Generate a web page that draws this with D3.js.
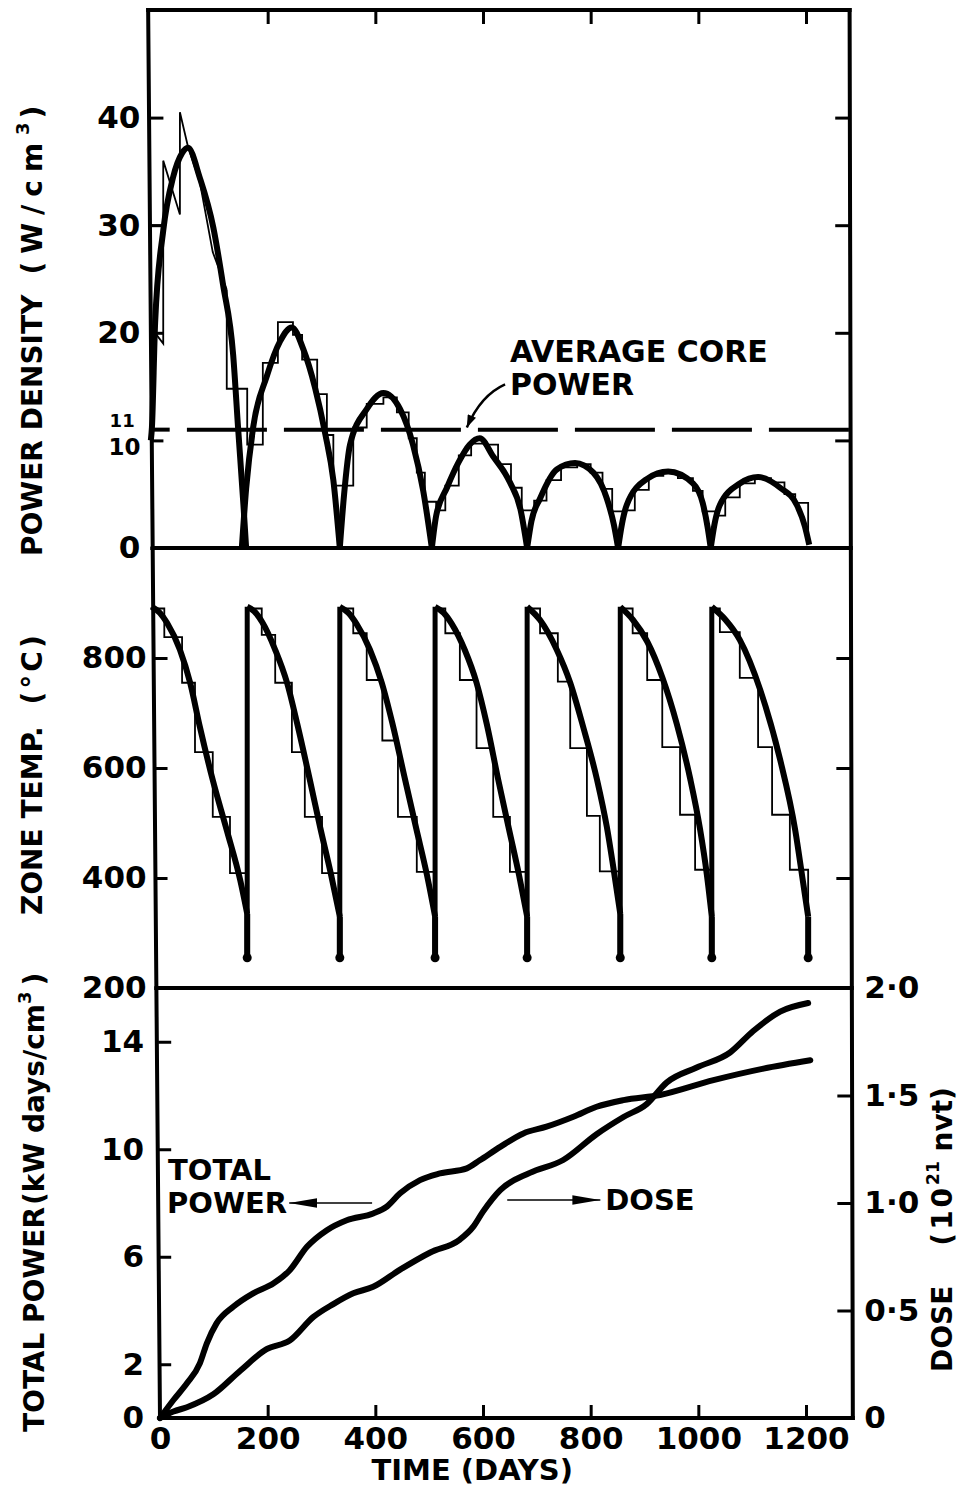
<!DOCTYPE html>
<html>
<head>
<meta charset="utf-8">
<script src="https://cdn.jsdelivr.net/npm/d3@7"></script>
<style>
body { margin: 0; background: #fff; }
svg text { font-family: "DejaVu Sans", sans-serif; font-weight: bold; fill: #000; }
</style>
</head>
<body>
<div id="chart"></div>
<script>
// ---------- data ----------
var dayTicks = [0, 200, 400, 600, 800, 1000, 1200];

// power density (W/cm3)
var powerTicks = [0, 10, 20, 30, 40];
var averageCorePower = 11;
var powerCycles = [
  [[-17,10],[-15,11.2],[-9,21],[6,29.5],[24,34.4],[41,36.7],[52,37.2],[74,34.4],[99,29.8],[117,24.5],[136,17.9],[145,11.2],[155,4],[160,0]],
  [[152,0],[160,5.5],[173,11.2],[198,15.9],[223,19.2],[245,20.5],[266,18.5],[288,14.9],[307,10.6],[322,6.3],[334,0]],
  [[334,0],[342,5],[353,9.6],[384,12.9],[415,14.4],[446,12.9],[470,9.6],[489,5.3],[505,0]],
  [[505,0],[513,3],[533,5.6],[555,8],[575,9.6],[594,10.2],[619,8.5],[650,6.1],[670,3.5],[682,0]],
  [[682,0],[690,2.5],[706,4.6],[737,7.3],[771,7.9],[805,7.0],[830,4.6],[843,2.2],[851,0]],
  [[851,0],[858,2.2],[867,4.0],[904,6.4],[944,7.1],[990,6.0],[1008,4.2],[1017,2],[1023,0]],
  [[1023,0],[1030,2.2],[1040,4.0],[1077,6.0],[1111,6.6],[1152,5.6],[1183,4.0],[1198,2.0],[1206,0.3]]
];
// thin trace: irregular first part, then a staircase
var powerTraceStart = [[-17,20.5],[6,19],[6,36],[37,31],[37,40.5],[52,37.3],[74,34],[98,27.5],[124,24]];
var powerTraceBox = [[-17,30],[6,30]];
var powerSteps = [
  [124,24],[124,14.8],[162,9.6],[191,17.2],[219,21.0],[247,19.8],[264,17.5],[292,14.3],[310,10.5],[322,5.8],
  [359,11.2],[384,13.4],[415,14.0],[440,12.6],[462,10.2],[477,7.0],[492,4.3],
  [513,3.5],[530,5.8],[555,8.6],[578,9.7],[605,9.6],[628,7.8],[652,5.6],[672,3.5],
  [695,4.4],[718,6.3],[745,7.5],[775,7.8],[800,7.0],[822,5.5],[840,3.4],
  [862,3.5],[882,5.4],[908,6.7],[935,7.0],[962,6.5],[990,5.3],[1008,3.4],
  [1032,3.0],[1050,4.7],[1077,6.0],[1105,6.5],[1135,6.1],[1160,5.0],[1180,4.2],[1204,0.5]
];

// zone temperature (deg C)
var tempTicks = [200, 400, 600, 800];
var tempLow = 255;
var reloadDays = [162, 334, 511, 682, 855, 1025, 1204];
var tempCycles = [
  [[-15,893],[0,882],[13,864],[37,815],[56,755],[74,675],[98,578],[124,487],[149,396],[162,335]],
  [[162,893],[175,885],[190,865],[214,815],[236,755],[255,680],[278,580],[298,490],[318,405],[334,330]],
  [[334,893],[350,882],[365,862],[390,815],[412,755],[432,680],[455,580],[476,490],[496,405],[511,330]],
  [[511,893],[527,882],[542,862],[566,815],[588,755],[607,680],[628,580],[648,490],[667,405],[682,330]],
  [[682,893],[706,869],[737,815],[762,755],[786,675],[812,578],[830,493],[842,420],[855,335]],
  [[855,893],[878,870],[905,830],[933,765],[960,680],[985,580],[1003,490],[1016,405],[1025,330]],
  [[1025,893],[1050,870],[1077,833],[1115,742],[1152,615],[1180,487],[1194,396],[1204,330]]
];
var tempSteps = [
  [-18,890],[8,838],[41,755],[65,629],[98,511],[130,409],
  [162,890],[189,842],[214,755],[245,629],[269,511],[301,409],
  [334,890],[359,845],[384,760],[413,650],[442,511],[477,411],
  [511,890],[530,845],[557,760],[588,636],[619,511],[650,411],
  [682,890],[706,845],[739,757],[762,636],[793,513],[817,412],
  [855,890],[878,845],[905,760],[933,638],[966,515],[994,415],
  [1025,890],[1040,847],[1077,764],[1111,638],[1137,515],[1170,415],[1204,330]
];

// total power (kW days/cm3) and dose (10^21 nvt)
var totalPowerTicks = [0, 2, 6, 10, 14];
var doseTicks = [0, 0.5, 1.0, 1.5, 2.0];
var doseTickLabels = ["0", "0·5", "1·0", "1·5", "2·0"];
var totalPower = [
  [0,0],[25,0.67],[50,1.29],[74,2.03],[87,2.78],[105,3.52],[136,4.14],[173,4.64],[211,5.01],[241,5.5],
  [273,6.37],[310,6.99],[347,7.36],[396,7.61],[421,7.86],[446,8.36],[483,8.85],[520,9.1],[570,9.29],[594,9.59],
  [632,10.09],[675,10.59],[718,10.84],[768,11.21],[811,11.58],[861,11.83],[929,12.02],[1028,12.57],[1121,13.0],[1208,13.31]
];
var dose = [
  [0,0],[25,0.03],[50,0.05],[99,0.11],[149,0.22],[198,0.32],[241,0.36],[285,0.47],[322,0.53],[359,0.58],
  [396,0.61],[446,0.69],[502,0.77],[557,0.83],[582,0.89],[600,0.96],[632,1.06],[687,1.14],[749,1.2],[811,1.32],
  [861,1.4],[904,1.46],[941,1.56],[997,1.63],[1059,1.7],[1102,1.8],[1152,1.89],[1204,1.93]
];

// ---------- drawing ----------
var W = 964, H = 1488;
var svg = d3.select("#chart").append("svg").attr("width", W).attr("height", H);

var x = d3.scaleLinear().domain([0, 1200]).range([160, 806]);
var yP = d3.scaleLinear().domain([0, 50]).range([548, 10]);
var yT = d3.scaleLinear().domain([200, 1000]).range([988, 548]);
var yE = d3.scaleLinear().domain([0, 16]).range([1418, 988]);
var yD = d3.scaleLinear().domain([0, 2]).range([1418, 988]);

// hand drawn frame is a little slanted
var topY = yP(50), botY = yE(0);
var lTop = x(-22), lBot = x(0), rTop = x(1281), rBot = x(1287);
function leftAt(y) { return lTop + (lBot - lTop) * (y - topY) / (botY - topY); }
function rightAt(y) { return rTop + (rBot - rTop) * (y - topY) / (botY - topY); }

var frame = svg.append("g").attr("stroke", "#000").attr("stroke-width", 4).attr("stroke-linecap", "square");
frame.append("line").attr("x1", lTop).attr("y1", topY).attr("x2", lBot).attr("y2", botY);
frame.append("line").attr("x1", rTop).attr("y1", topY).attr("x2", rBot).attr("y2", botY);
[yP(50), yP(0), yT(200), yE(0)].forEach(function(yy) {
  frame.append("line").attr("x1", leftAt(yy)).attr("y1", yy).attr("x2", rightAt(yy)).attr("y2", yy);
});

function styleAxis(g, size) {
  g.select(".domain").remove();
  g.selectAll(".tick line").attr("stroke", "#000").attr("stroke-width", 3);
  g.selectAll(".tick text").style("font-size", size + "px").attr("fill", "#000");
}

// top ticks (no labels)
var gTop = svg.append("g").attr("transform", "translate(0," + yP(50) + ")")
  .call(d3.axisTop(x).tickValues(dayTicks.slice(1)).tickSizeInner(-14).tickSizeOuter(0).tickFormat(""));
styleAxis(gTop, 30);

// power density axes
var gPL = svg.append("g").attr("transform", "translate(" + leftAt(yP(25)) + ",0)")
  .call(d3.axisLeft(yP).tickValues(powerTicks).tickSizeInner(-13).tickSizeOuter(0).tickPadding(10));
styleAxis(gPL, 31);
gPL.selectAll(".tick").filter(function(d) { return d === 10; }).select("text")
  .style("font-size", "23px").attr("dy", "0.62em");
var gPR = svg.append("g").attr("transform", "translate(" + rightAt(yP(25)) + ",0)")
  .call(d3.axisRight(yP).tickValues(powerTicks.slice(1)).tickSizeInner(-15).tickSizeOuter(0).tickFormat(""));
styleAxis(gPR, 30);
// "11" marker for the average core power
svg.append("line").attr("x1", leftAt(yP(11))).attr("x2", leftAt(yP(11)) + 18)
  .attr("y1", yP(averageCorePower)).attr("y2", yP(averageCorePower))
  .attr("stroke", "#000").attr("stroke-width", 4);
svg.append("text").attr("x", leftAt(yP(11)) - 17).attr("y", yP(averageCorePower) - 3)
  .attr("text-anchor", "end").style("font-size", "18px").text(averageCorePower);

// zone temp axes
var gTL = svg.append("g").attr("transform", "translate(" + leftAt(yT(600)) + ",0)")
  .call(d3.axisLeft(yT).tickValues(tempTicks).tickSizeInner(-13).tickSizeOuter(0).tickPadding(8));
styleAxis(gTL, 31);
var gTR = svg.append("g").attr("transform", "translate(" + rightAt(yT(600)) + ",0)")
  .call(d3.axisRight(yT).tickValues(tempTicks.slice(1)).tickSizeInner(-15).tickSizeOuter(0).tickFormat(""));
styleAxis(gTR, 30);

// total power / dose axes
var gEL = svg.append("g").attr("transform", "translate(" + leftAt(yE(8)) + ",0)")
  .call(d3.axisLeft(yE).tickValues(totalPowerTicks).tickSizeInner(-13).tickSizeOuter(0).tickPadding(14));
styleAxis(gEL, 31);
var gDR = svg.append("g").attr("transform", "translate(" + rightAt(yD(1)) + ",0)")
  .call(d3.axisRight(yD).tickValues(doseTicks).tickSizeInner(-15).tickSizeOuter(0).tickPadding(12)
    .tickFormat(function(d, i) { return doseTickLabels[i]; }));
styleAxis(gDR, 31);
gDR.selectAll(".tick").filter(function(d) { return d === 0 || d === 2; }).select("line").remove();

var gX = svg.append("g").attr("transform", "translate(0," + yE(0) + ")")
  .call(d3.axisBottom(x).tickValues(dayTicks).tickSizeInner(-13).tickSizeOuter(0).tickPadding(9)
    .tickFormat(d3.format("d")));
styleAxis(gX, 31);
gX.selectAll(".tick").filter(function(d) { return d === 0; }).select("line").remove();

// axis titles
function sideTitle(tx, ty, parts) {
  var t = svg.append("text").attr("transform", "translate(" + tx + "," + ty + ") rotate(-90)")
    .attr("text-anchor", "start").style("font-size", "28px");
  parts.forEach(function(p) {
    var s = t.append("tspan").text(p.t);
    if (p.dx) s.attr("dx", p.dx);
    if (p.dy) s.attr("dy", p.dy);
    if (p.size) s.style("font-size", p.size + "px");
    if (p.ls) s.style("letter-spacing", p.ls + "px");
  });
}
sideTitle(42, 556, [{t: "POWER DENSITY"}, {t: "(W/cm", dx: 20, ls: 8}, {t: "3", dy: -13, size: 18}, {t: ")", dy: 13, dx: 4}]);
sideTitle(42, 915, [{t: "ZONE TEMP."}, {t: "(°C)", dx: 22, ls: 3}]);
sideTitle(44, 1432, [{t: "TOTAL POWER"}, {t: "(kW days/cm", dx: 2}, {t: "3", dy: -13, size: 18}, {t: ")", dy: 13, dx: 6}]);
sideTitle(952, 1372, [{t: "DOSE"}, {t: "(10", dx: 40, ls: 3}, {t: "21", dy: -13, size: 17}, {t: " nvt)", dy: 13}]);

svg.append("text").attr("x", x(580)).attr("y", 1480).attr("text-anchor", "middle")
  .style("font-size", "29px").text("TIME  (DAYS)");

// ---------- power density marks ----------
var linePD = d3.line().x(function(d) { return x(d[0]); }).y(function(d) { return yP(d[1]); });
svg.append("line").attr("x1", x(50)).attr("x2", rightAt(yP(11)))
  .attr("y1", yP(averageCorePower)).attr("y2", yP(averageCorePower))
  .attr("stroke", "#000").attr("stroke-width", 4).attr("stroke-dasharray", "80,17");

svg.append("path").datum(powerTraceStart).attr("d", linePD)
  .attr("fill", "none").attr("stroke", "#000").attr("stroke-width", 1.8);
svg.append("path").datum(powerTraceBox).attr("d", linePD)
  .attr("fill", "none").attr("stroke", "#000").attr("stroke-width", 1.8);
svg.append("path").datum(powerSteps).attr("d", linePD.curve(d3.curveStepAfter))
  .attr("fill", "none").attr("stroke", "#000").attr("stroke-width", 1.8);

var smoothPD = d3.line().x(function(d) { return x(d[0]); }).y(function(d) { return yP(d[1]); })
  .curve(d3.curveMonotoneX);
svg.append("g").selectAll("path").data(powerCycles).enter().append("path")
  .attr("d", smoothPD).attr("fill", "none").attr("stroke", "#000")
  .attr("stroke-width", 6).attr("stroke-linejoin", "round");

// ---------- zone temperature marks ----------
var lineT = d3.line().x(function(d) { return x(d[0]); }).y(function(d) { return yT(d[1]); });
svg.append("path").datum(tempSteps).attr("d", lineT.curve(d3.curveStepAfter))
  .attr("fill", "none").attr("stroke", "#000").attr("stroke-width", 1.8);

var smoothT = d3.line().x(function(d) { return x(d[0]); }).y(function(d) { return yT(d[1]); })
  .curve(d3.curveMonotoneX);
svg.append("g").selectAll("path").data(tempCycles).enter().append("path")
  .attr("d", smoothT).attr("fill", "none").attr("stroke", "#000")
  .attr("stroke-width", 6).attr("stroke-linejoin", "round");

// fall to the reload temperature, and the jump after reload
tempCycles.forEach(function(c, i) {
  var last = c[c.length - 1];
  svg.append("line").attr("x1", x(last[0])).attr("x2", x(reloadDays[i]))
    .attr("y1", yT(last[1])).attr("y2", yT(tempLow))
    .attr("stroke", "#000").attr("stroke-width", 6);
  if (i + 1 < tempCycles.length) {
    svg.append("line").attr("x1", x(reloadDays[i])).attr("x2", x(reloadDays[i]))
      .attr("y1", yT(tempLow)).attr("y2", yT(tempCycles[i + 1][0][1]))
      .attr("stroke", "#000").attr("stroke-width", 5);
  }
});
svg.append("g").selectAll("circle").data(reloadDays).enter().append("circle")
  .attr("cx", function(d) { return x(d); }).attr("cy", yT(tempLow)).attr("r", 4.5).attr("fill", "#000");

// ---------- total power / dose marks ----------
var lineE = d3.line().x(function(d) { return x(d[0]); }).y(function(d) { return yE(d[1]); })
  .curve(d3.curveMonotoneX);
var lineD = d3.line().x(function(d) { return x(d[0]); }).y(function(d) { return yD(d[1]); })
  .curve(d3.curveMonotoneX);
svg.append("path").datum(totalPower).attr("d", lineE)
  .attr("fill", "none").attr("stroke", "#000").attr("stroke-width", 6).attr("stroke-linecap", "round");
svg.append("path").datum(dose).attr("d", lineD)
  .attr("fill", "none").attr("stroke", "#000").attr("stroke-width", 6).attr("stroke-linecap", "round");

// ---------- annotations ----------
var defs = svg.append("defs");
defs.append("marker").attr("id", "head").attr("viewBox", "0 0 30 10")
  .attr("refX", 30).attr("refY", 5).attr("markerUnits", "userSpaceOnUse")
  .attr("markerWidth", 28).attr("markerHeight", 10).attr("orient", "auto")
  .append("path").attr("d", "M0,0 L30,5 L0,10 Z").attr("fill", "#000");
defs.append("marker").attr("id", "smallhead").attr("viewBox", "0 0 14 10")
  .attr("refX", 14).attr("refY", 5).attr("markerUnits", "userSpaceOnUse")
  .attr("markerWidth", 13).attr("markerHeight", 9).attr("orient", "auto")
  .append("path").attr("d", "M0,0 L14,5 L0,10 Z").attr("fill", "#000");

svg.append("text").attr("x", x(650)).attr("y", yP(17.3)).style("font-size", "30px").text("AVERAGE CORE");
svg.append("text").attr("x", x(650)).attr("y", yP(14.2)).style("font-size", "30px").text("POWER");
svg.append("path")
  .attr("d", "M" + x(641) + "," + yP(15.2) + " Q" + x(596) + "," + yP(14.2) + " " + x(570) + "," + yP(11.2))
  .attr("fill", "none").attr("stroke", "#000").attr("stroke-width", 2.5).attr("marker-end", "url(#smallhead)");

svg.append("text").attr("x", x(15)).attr("y", yE(8.86)).style("font-size", "29px").text("TOTAL");
svg.append("text").attr("x", x(13)).attr("y", yE(7.63)).style("font-size", "29px").text("POWER");
svg.append("line").attr("x1", x(394)).attr("x2", x(240)).attr("y1", yE(8.0)).attr("y2", yE(8.0))
  .attr("stroke", "#000").attr("stroke-width", 1.6).attr("marker-end", "url(#head)");

svg.append("text").attr("x", x(827)).attr("y", yD(0.967)).style("font-size", "29px").text("DOSE");
svg.append("line").attr("x1", x(645)).attr("x2", x(818)).attr("y1", yD(1.014)).attr("y2", yD(1.014))
  .attr("stroke", "#000").attr("stroke-width", 1.6).attr("marker-end", "url(#head)");
</script>
</body>
</html>
